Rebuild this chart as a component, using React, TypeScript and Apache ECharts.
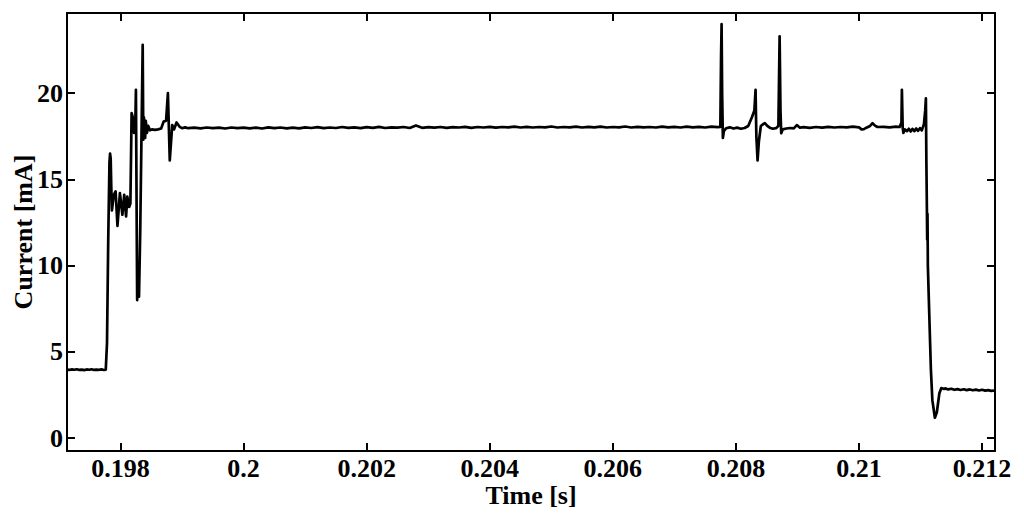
import React, { useEffect, useRef } from "react";
import * as echarts from "echarts";

const xTicks = [0.198, 0.2, 0.202, 0.204, 0.206, 0.208, 0.21, 0.212];
const yTicks = [0, 5, 10, 15, 20];

const baselineLow: [number, number][] = [
  [0.19713, 3.97], [0.19717, 3.95], [0.19721, 3.98], [0.19725, 3.96], [0.19729, 3.99],
  [0.19733, 3.95], [0.19737, 3.97], [0.19741, 3.94], [0.19745, 3.98], [0.19749, 3.96],
  [0.19753, 3.99], [0.19757, 3.95], [0.19761, 3.97], [0.19765, 3.96], [0.19769, 3.98],
  [0.19773, 3.95], [0.19776, 3.97],
];

const turnOn: [number, number][] = [
  [0.19778, 5.5], [0.1978, 11.5], [0.19782, 16.0], [0.19783, 16.5], [0.19784, 16.2],
  [0.19785, 14.5], [0.19786, 13.2], [0.19789, 14.1], [0.19792, 14.3], [0.19795, 12.3],
  [0.19799, 14.2], [0.19803, 12.95], [0.19806, 14.1], [0.19809, 12.85], [0.19811, 14.0],
  [0.19814, 13.4], [0.19816, 13.6], [0.19818, 18.84], [0.1982, 18.6], [0.19822, 17.7],
  [0.19824, 18.2], [0.19825, 20.2], [0.19827, 8.0], [0.19829, 10.0], [0.1983, 8.2],
  [0.19832, 12.0], [0.19836, 22.8], [0.19837, 17.3], [0.19838, 18.6], [0.1984, 17.4],
  [0.19841, 18.4], [0.19843, 17.7], [0.19845, 18.1], [0.19848, 17.85], [0.19851, 17.9],
  [0.19856, 17.87], [0.19861, 17.9], [0.19866, 17.95], [0.1987, 18.35], [0.19874, 18.4],
  [0.19877, 20.0], [0.1988, 16.1], [0.19884, 18.15], [0.19887, 17.9], [0.19891, 18.3],
  [0.19896, 18.05], [0.199, 17.97], [0.19905, 18.02],
];

const plateau: [number, number][] = [
  [0.1991, 17.97], [0.1992, 18.0], [0.1993, 17.96], [0.1994, 18.01], [0.1995, 17.97],
  [0.1996, 18.0], [0.1997, 17.95], [0.1998, 18.01], [0.1999, 17.97], [0.2, 18.0],
  [0.2001, 17.96], [0.2002, 18.0], [0.2003, 17.95], [0.2004, 18.02], [0.2005, 17.97],
  [0.2006, 18.01], [0.2007, 17.96], [0.2008, 18.0], [0.2009, 17.96], [0.201, 18.02],
  [0.2011, 17.98], [0.2012, 18.03], [0.2013, 17.97], [0.2014, 18.01], [0.2015, 17.98],
  [0.2016, 18.04], [0.2017, 17.99], [0.2018, 18.02], [0.2019, 17.97], [0.202, 18.03],
  [0.2021, 17.99], [0.2022, 18.05], [0.2023, 17.98], [0.2024, 18.02], [0.2025, 18.0],
  [0.2026, 18.04], [0.2027, 17.98], [0.2028, 18.12], [0.2029, 17.99], [0.203, 18.03],
  [0.2031, 18.0], [0.2032, 18.04], [0.2033, 17.99], [0.2034, 18.03], [0.2035, 18.01],
  [0.2036, 18.05], [0.2037, 17.99], [0.2038, 18.04], [0.2039, 18.01], [0.204, 18.05],
  [0.2041, 18.0], [0.2042, 18.04], [0.2043, 18.02], [0.2044, 18.06], [0.2045, 18.01],
  [0.2046, 18.05], [0.2047, 18.01], [0.2048, 18.04], [0.2049, 18.02], [0.205, 18.07],
  [0.2051, 18.01], [0.2052, 18.04], [0.2053, 18.02], [0.2054, 18.06], [0.2055, 18.01],
  [0.2056, 18.05], [0.2057, 18.02], [0.2058, 18.06], [0.2059, 18.01], [0.206, 18.04],
  [0.2061, 18.02], [0.2062, 18.07], [0.2063, 18.01], [0.2064, 18.05], [0.2065, 18.02],
  [0.2066, 18.04], [0.2067, 18.01], [0.2068, 18.06], [0.2069, 18.02], [0.207, 18.05],
  [0.2071, 18.01], [0.2072, 18.06], [0.2073, 18.02], [0.2074, 18.05], [0.2075, 18.01],
  [0.2076, 18.06], [0.2077, 18.03],
];

const midSpikes: [number, number][] = [
  [0.207747, 18.05], [0.207758, 22.0], [0.207767, 24.0], [0.207776, 20.0], [0.207788, 17.4],
  [0.207804, 17.8], [0.20784, 17.97], [0.2079, 18.02], [0.20796, 17.95], [0.20802, 18.0],
  [0.20808, 17.94], [0.20814, 17.98], [0.2082, 18.1], [0.20826, 18.6], [0.2083, 19.0],
  [0.208319, 20.2], [0.208332, 17.5], [0.208352, 16.1], [0.208373, 17.2], [0.208405, 18.1],
  [0.20844, 18.2], [0.20847, 18.26], [0.20851, 18.1], [0.20855, 18.0], [0.2086, 17.94],
  [0.20865, 17.97], [0.20869, 18.1], [0.20871, 23.3], [0.208724, 19.0], [0.208736, 17.68],
  [0.20876, 17.9], [0.20882, 17.95], [0.20888, 17.98], [0.20894, 17.96], [0.20899, 18.15],
  [0.20904, 18.0], [0.2091, 18.03], [0.2092, 17.99], [0.2093, 18.04], [0.2094, 18.0],
  [0.2095, 18.05], [0.2096, 18.01], [0.2097, 18.04], [0.2098, 18.02], [0.2099, 18.06],
  [0.21, 18.02], [0.21004, 17.9], [0.21008, 17.92], [0.21012, 18.0], [0.21018, 18.1],
  [0.21022, 18.26], [0.21026, 18.12], [0.2103, 18.04], [0.2104, 18.05], [0.2105, 18.02],
  [0.2106, 18.06], [0.21066, 18.04], [0.21069, 18.3], [0.210697, 20.2], [0.21071, 18.0],
  [0.210721, 17.7], [0.210745, 17.9], [0.21078, 17.8], [0.21081, 17.94], [0.21084, 17.78],
  [0.21087, 17.93], [0.2109, 17.8], [0.21093, 17.95], [0.21096, 17.82], [0.21099, 17.97],
  [0.21102, 17.84], [0.21104, 18.05], [0.211055, 18.2], [0.211076, 19.0], [0.211087, 19.7],
];

const turnOff: [number, number][] = [
  [0.211095, 16.0], [0.211103, 13.4], [0.211108, 11.5], [0.211113, 13.0], [0.211119, 10.0],
  [0.211135, 8.0], [0.211168, 4.0], [0.211192, 2.2], [0.211233, 1.18], [0.211265, 1.5],
  [0.211306, 2.6], [0.211338, 2.9], [0.21138, 2.85],
];

const tailLow: [number, number][] = [
  [0.2114, 2.88], [0.21145, 2.82], [0.2115, 2.86], [0.21155, 2.8], [0.2116, 2.84],
  [0.21165, 2.79], [0.2117, 2.83], [0.21175, 2.78], [0.2118, 2.82], [0.21185, 2.77],
  [0.2119, 2.81], [0.21195, 2.76], [0.212, 2.8], [0.21205, 2.75], [0.2121, 2.78],
  [0.21215, 2.74], [0.21221, 2.76],
];

const X_MIN = 0.19713;
const X_MAX = 0.21221;
const Y_MIN = -0.75;
const Y_MAX = 24.65;

const font = {
  fontFamily: "'Liberation Serif', 'Times New Roman', serif",
  fontWeight: "bold" as const,
  fontSize: 26,
  color: "#000",
};

const fmtX = (v: number) => String(parseFloat(Number(v).toFixed(3)));

export default function App() {
  const ref = useRef<HTMLDivElement>(null);
  useEffect(() => {
    if (!ref.current) return;
    const chart = echarts.init(ref.current, undefined, { renderer: "svg" });
    const data = [...baselineLow, ...turnOn, ...plateau, ...midSpikes, ...turnOff, ...tailLow];
    const lineStyle = { color: "#000", width: 2 };
    const tick = (vals: number[]) => ({
      show: true,
      inside: true,
      length: 8,
      customValues: vals,
      lineStyle: { color: "#000", width: 2 },
    });
    chart.setOption({
      animation: false,
      backgroundColor: "#fff",
      grid: {
        left: 67,
        right: 29,
        top: 13,
        bottom: 65,
        containLabel: false,
        outerBoundsMode: "none",
      },
      xAxis: [
        {
          type: "value",
          min: X_MIN,
          max: X_MAX,
          position: "bottom",
          name: "Time [s]",
          nameLocation: "middle",
          nameGap: 34,
          nameMoveOverlap: false,
          nameTextStyle: { ...font, lineHeight: 20 },
          axisLine: { show: true, onZero: false, lineStyle },
          axisTick: tick(xTicks),
          axisLabel: { ...font, lineHeight: 20, margin: 7, customValues: xTicks, formatter: fmtX },
          splitLine: { show: false },
        },
        {
          type: "value",
          min: X_MIN,
          max: X_MAX,
          position: "top",
          axisLine: { show: true, onZero: false, lineStyle },
          axisTick: tick(xTicks),
          axisLabel: { show: false },
          splitLine: { show: false },
        },
      ],
      yAxis: [
        {
          type: "value",
          min: Y_MIN,
          max: Y_MAX,
          position: "left",
          name: "Current [mA]",
          nameLocation: "middle",
          nameGap: 31,
          nameMoveOverlap: false,
          nameTextStyle: { ...font },
          axisLine: { show: true, onZero: false, lineStyle },
          axisTick: tick(yTicks),
          axisLabel: { ...font, margin: 4, customValues: yTicks },
          splitLine: { show: false },
        },
        {
          type: "value",
          min: Y_MIN,
          max: Y_MAX,
          position: "right",
          axisLine: { show: true, onZero: false, lineStyle },
          axisTick: tick(yTicks),
          axisLabel: { show: false },
          splitLine: { show: false },
        },
      ],
      series: [
        {
          type: "line",
          data,
          xAxisIndex: 0,
          yAxisIndex: 0,
          showSymbol: false,
          symbol: "none",
          lineStyle: { color: "#000", width: 2.7, join: "round" },
          silent: true,
        },
      ],
    });
    return () => chart.dispose();
  }, []);
  return (
    <div
      ref={ref}
      style={{ position: "absolute", left: 0, top: 0, width: 1024, height: 516, background: "#fff" }}
    />
  );
}
